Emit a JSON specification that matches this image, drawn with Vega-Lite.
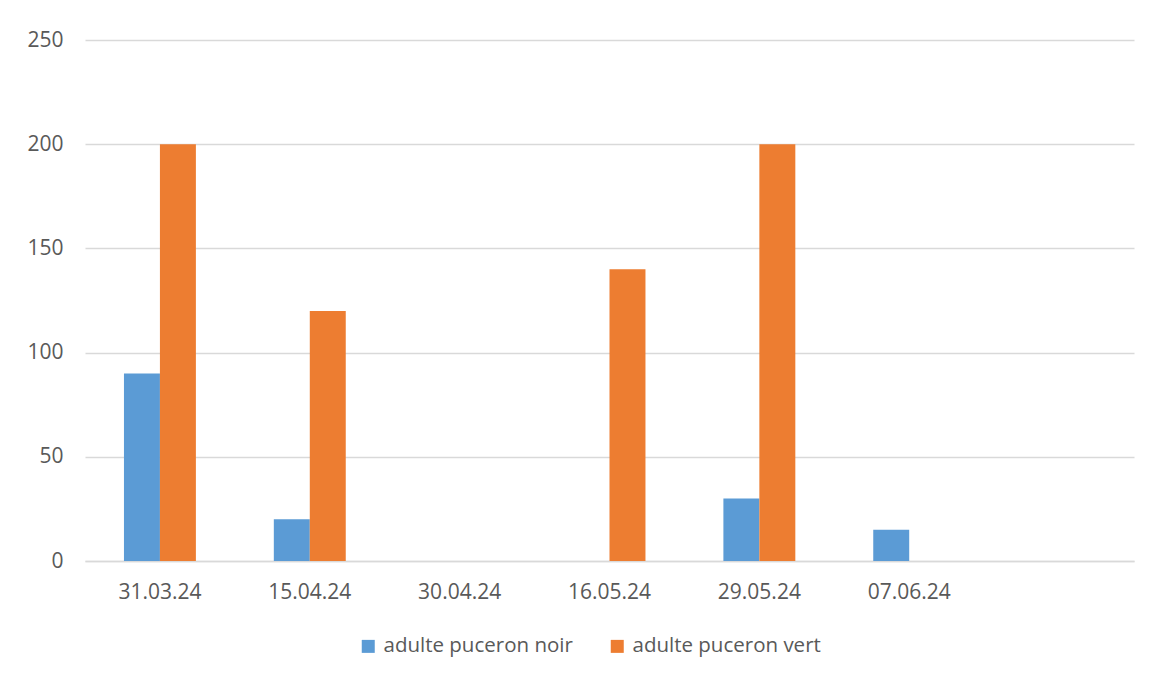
{
  "$schema": "https://vega.github.io/schema/vega-lite/v6.json",
  "autosize": {"type": "none"},
  "width": 1049,
  "height": 521,
  "padding": {"left": 85, "top": 40, "right": 20, "bottom": 116},
  "background": "white",
  "config": {
    "view": {"stroke": null},
    "font": "Open Sans",
    "axis": {"labelFont": "Open Sans", "labelFontSize": 21, "labelColor": "#595959"}
  },
  "data": {
    "values": [
      {"date": "31.03.24", "serie": "adulte puceron noir", "valeur": 90},
      {"date": "31.03.24", "serie": "adulte puceron vert", "valeur": 200},
      {"date": "15.04.24", "serie": "adulte puceron noir", "valeur": 20},
      {"date": "15.04.24", "serie": "adulte puceron vert", "valeur": 120},
      {"date": "30.04.24", "serie": "adulte puceron noir", "valeur": 0},
      {"date": "30.04.24", "serie": "adulte puceron vert", "valeur": 0},
      {"date": "16.05.24", "serie": "adulte puceron noir", "valeur": 0},
      {"date": "16.05.24", "serie": "adulte puceron vert", "valeur": 140},
      {"date": "29.05.24", "serie": "adulte puceron noir", "valeur": 30},
      {"date": "29.05.24", "serie": "adulte puceron vert", "valeur": 200},
      {"date": "07.06.24", "serie": "adulte puceron noir", "valeur": 15},
      {"date": "07.06.24", "serie": "adulte puceron vert", "valeur": 0}
    ]
  },
  "mark": {"type": "bar"},
  "encoding": {
    "x": {
      "field": "date",
      "type": "nominal",
      "sort": null,
      "scale": {
        "domain": ["31.03.24", "15.04.24", "30.04.24", "16.05.24", "29.05.24", "07.06.24", " "],
        "paddingInner": 0.52,
        "paddingOuter": 0.26
      },
      "axis": {
        "title": null,
        "labelAngle": 0,
        "ticks": false,
        "domainColor": "#d9d9d9",
        "domainWidth": 1.5,
        "labelPadding": 20,
        "labelBaseline": "top"
      }
    },
    "xOffset": {"field": "serie", "type": "nominal"},
    "y": {
      "field": "valeur",
      "type": "quantitative",
      "scale": {"domain": [0, 250], "nice": false},
      "axis": {
        "title": null,
        "values": [0, 50, 100, 150, 200, 250],
        "ticks": false,
        "domain": false,
        "gridColor": "#d9d9d9",
        "gridWidth": 1.5,
        "labelPadding": 22
      }
    },
    "color": {
      "field": "serie",
      "type": "nominal",
      "scale": {"domain": ["adulte puceron noir", "adulte puceron vert"], "range": ["#5B9BD5", "#ED7D31"]},
      "legend": {
        "title": null,
        "orient": "none",
        "direction": "horizontal",
        "legendX": 273,
        "legendY": 596,
        "symbolType": "square",
        "symbolSize": 169,
        "symbolStrokeWidth": 0,
        "labelFontSize": 20.5,
        "labelFont": "Open Sans",
        "labelColor": "#595959",
        "labelOffset": 5,
        "labelLimit": 0,
        "columnPadding": 34
      }
    }
  }
}
